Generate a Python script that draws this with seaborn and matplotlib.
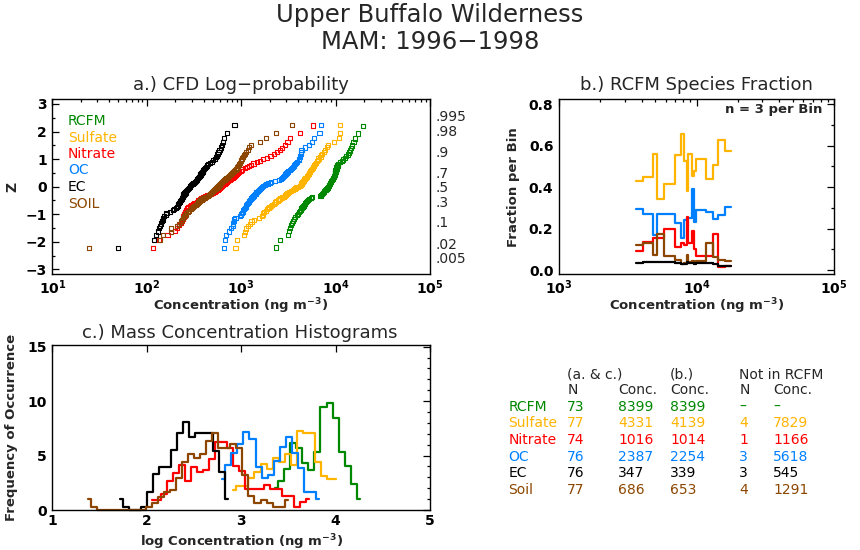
import numpy as np
import pandas as pd
import seaborn as sns
import matplotlib
matplotlib.use("Agg")
import matplotlib.pyplot as plt
from matplotlib.ticker import MultipleLocator, FixedLocator, NullFormatter, LogLocator
from statistics import NormalDist

# ---------------- data ----------------
species = ["RCFM", "Sulfate", "Nitrate", "OC", "EC", "Soil"]
legend_labels = ["RCFM", "Sulfate", "Nitrate", "OC", "EC", "SOIL"]

# a.) sorted sample concentrations, log10(ng m-3)
rcfm_log10 = [3.37, 3.41, 3.50, 3.51, 3.52, 3.53, 3.54, 3.55, 3.56, 3.57,
              3.59, 3.60, 3.61, 3.62, 3.63, 3.64, 3.65, 3.66, 3.67, 3.68,
              3.69, 3.70, 3.71, 3.72, 3.74, 3.75, 3.84, 3.85, 3.86, 3.87,
              3.88, 3.88, 3.89, 3.90, 3.91, 3.92, 3.92, 3.93, 3.93, 3.94,
              3.94, 3.95, 3.95, 3.96, 3.97, 3.97, 3.98, 3.98, 3.99, 3.99,
              3.99, 4.00, 4.00, 4.00, 4.01, 4.01, 4.02, 4.02, 4.03, 4.05,
              4.07, 4.08, 4.10, 4.11, 4.13, 4.14, 4.15, 4.16, 4.17, 4.19,
              4.21, 4.24, 4.29]
sulfate_log10 = [2.94, 2.96, 3.03, 3.04, 3.05, 3.07, 3.09, 3.11, 3.14, 3.19,
                 3.22, 3.23, 3.23, 3.24, 3.26, 3.27, 3.29, 3.30, 3.32, 3.33,
                 3.35, 3.36, 3.37, 3.39, 3.40, 3.41, 3.43, 3.45, 3.46, 3.47,
                 3.48, 3.49, 3.51, 3.53, 3.55, 3.56, 3.57, 3.58, 3.60, 3.62,
                 3.63, 3.64, 3.64, 3.65, 3.66, 3.67, 3.67, 3.68, 3.69, 3.70,
                 3.70, 3.71, 3.72, 3.72, 3.73, 3.73, 3.74, 3.75, 3.76, 3.77,
                 3.77, 3.78, 3.79, 3.80, 3.81, 3.82, 3.84, 3.85, 3.86, 3.88,
                 3.89, 3.91, 3.92, 3.98, 4.04, 4.05, 4.05]
nitrate_log10 = [2.07, 2.13, 2.22, 2.30, 2.32, 2.34, 2.36, 2.37, 2.38, 2.39,
                 2.39, 2.40, 2.41, 2.42, 2.42, 2.43, 2.44, 2.46, 2.47, 2.49,
                 2.50, 2.53, 2.54, 2.56, 2.58, 2.60, 2.62, 2.64, 2.66, 2.68,
                 2.70, 2.72, 2.73, 2.75, 2.76, 2.77, 2.79, 2.80, 2.81, 2.82,
                 2.83, 2.84, 2.85, 2.86, 2.88, 2.89, 2.91, 2.92, 2.93, 2.94,
                 2.96, 2.97, 2.98, 3.00, 3.01, 3.04, 3.06, 3.08, 3.10, 3.13,
                 3.17, 3.20, 3.23, 3.27, 3.31, 3.35, 3.38, 3.41, 3.43, 3.46,
                 3.49, 3.52, 3.62, 3.76]
oc_log10 = [2.82, 2.83, 2.84, 2.87, 2.89, 2.91, 2.91, 2.92, 2.92, 2.94,
            2.99, 3.00, 3.01, 3.02, 3.02, 3.03, 3.04, 3.05, 3.05, 3.06,
            3.07, 3.08, 3.08, 3.09, 3.10, 3.11, 3.12, 3.13, 3.14, 3.15,
            3.16, 3.16, 3.17, 3.18, 3.19, 3.20, 3.21, 3.22, 3.23, 3.25,
            3.26, 3.28, 3.30, 3.32, 3.36, 3.40, 3.42, 3.43, 3.44, 3.45,
            3.46, 3.47, 3.48, 3.49, 3.50, 3.52, 3.53, 3.54, 3.55, 3.56,
            3.57, 3.58, 3.59, 3.61, 3.61, 3.62, 3.62, 3.63, 3.63, 3.64,
            3.68, 3.72, 3.75, 3.77, 3.83, 3.85]
ec_log10 = [1.70, 2.08, 2.10, 2.12, 2.13, 2.14, 2.15, 2.16, 2.17, 2.17,
            2.18, 2.20, 2.21, 2.25, 2.28, 2.29, 2.31, 2.32, 2.33, 2.33,
            2.34, 2.35, 2.35, 2.36, 2.37, 2.37, 2.38, 2.38, 2.39, 2.39,
            2.40, 2.41, 2.41, 2.42, 2.43, 2.44, 2.45, 2.46, 2.46, 2.47,
            2.48, 2.49, 2.50, 2.51, 2.52, 2.53, 2.53, 2.54, 2.55, 2.56,
            2.57, 2.57, 2.58, 2.59, 2.60, 2.60, 2.61, 2.62, 2.63, 2.64,
            2.65, 2.67, 2.69, 2.70, 2.72, 2.73, 2.74, 2.75, 2.76, 2.77,
            2.79, 2.80, 2.81, 2.82, 2.85, 2.93]
soil_log10 = [1.39, 2.14, 2.17, 2.26, 2.26, 2.32, 2.34, 2.36, 2.37, 2.38,
              2.40, 2.41, 2.42, 2.44, 2.45, 2.47, 2.48, 2.49, 2.50, 2.52,
              2.53, 2.54, 2.55, 2.56, 2.58, 2.60, 2.62, 2.63, 2.65, 2.66,
              2.67, 2.68, 2.69, 2.70, 2.71, 2.72, 2.73, 2.74, 2.75, 2.76,
              2.77, 2.78, 2.79, 2.80, 2.81, 2.82, 2.83, 2.84, 2.85, 2.86,
              2.87, 2.88, 2.89, 2.90, 2.91, 2.92, 2.94, 2.95, 2.96, 2.97,
              2.98, 2.98, 2.99, 3.00, 3.00, 3.01, 3.02, 3.03, 3.04, 3.05,
              3.07, 3.08, 3.10, 3.20, 3.26, 3.37, 3.54]

prob_labels = [".995", ".98", ".9", ".7", ".5", ".3", ".1", ".02", ".005"]
prob_values = [0.995, 0.98, 0.9, 0.7, 0.5, 0.3, 0.1, 0.02, 0.005]

# b.) RCFM species fraction, bins of n = 3 (bin edges in log10 RCFM conc.)
b_edges_log10 = [3.56, 3.613, 3.681, 3.710, 3.764, 3.844, 3.885, 3.909, 3.929,
                 3.940, 3.965, 3.982, 3.995, 4.068, 4.12, 4.159, 4.207, 4.249]
frac_sulfate = [0.43, 0.45, 0.56, 0.345, 0.415, 0.555, 0.655, 0.525, 0.38,
                0.56, 0.455, 0.48, 0.535, 0.44, 0.505, 0.63, 0.575]
frac_oc = [0.293, 0.27, 0.17, 0.27, 0.27, 0.228, 0.155, 0.24, 0.25,
           0.25, 0.39, 0.23, 0.29, 0.28, 0.245, 0.266, 0.306]
frac_nitrate = [0.093, 0.137, 0.153, 0.153, 0.196, 0.11, 0.13, 0.12, 0.258,
                0.13, 0.19, 0.10, 0.07, 0.07, 0.175, 0.015, 0.02]
frac_soil = [0.12, 0.132, 0.075, 0.172, 0.07, 0.05, 0.03, 0.035, 0.075,
             0.04, 0.045, 0.04, 0.045, 0.13, 0.065, 0.048, 0.045]
frac_ec = [0.032, 0.04, 0.04, 0.04, 0.04, 0.035, 0.03, 0.03, 0.04,
           0.035, 0.035, 0.03, 0.035, 0.035, 0.03, 0.02, 0.02]

# c.) histograms of log concentration (first bin centre, common bin width)
hist_bin_width = 0.064
hist_first_center = [3.36, 2.917, 2.053, 2.80, 1.714, 1.381]
hist_rcfm = [2.05, 2.7, 3.74, 6.12, 5.66, 4.35, 3.67, 5.36, 9.43, 9.8, 8.42,
             5.36, 4.07, 2.39, 1.01]
hist_sulfate = [1.84, 2.23, 2.23, 2.91, 3.52, 4.2, 3.77, 4.8, 4.44, 5.11, 4.13,
                7.28, 7.04, 7.04, 4.44, 3.12, 2.85, 2.85]
hist_nitrate = [0.92, 0.92, 1.5, 2.66, 3.37, 4.13, 2.66, 3.98, 3.52, 3.67, 4.65,
                6.28, 6.28, 5.66, 4.04, 3.58, 1.93, 1.93, 1.93, 2.3, 1.93, 1.93,
                1.32, 1.32, 0.31, 0.7, 0.98]
hist_oc = [2.85, 4.13, 5.2, 6.06, 7.13, 6.52, 3.98, 2.91, 3.21, 4.53, 5.81,
           6.73, 5.2, 3.83, 1.62, 1.62, 0.98]
hist_ec = [0.98, 0.31, 0, 0, 0.31, 1.62, 3.27, 3.92, 3.92, 5.51, 7.1, 8.11,
           6.73, 7.1, 7.1, 7.1, 5.45, 3.52, 0.98]
hist_soil = [0.98, 0.31, 0, 0, 0, 0, 0, 0, 0, 0, 0.31, 0.61, 1.22, 1.62, 1.83,
             2.9, 4.44, 5.1, 4.8, 5.1, 6.36, 7.04, 5.72, 5.72, 6.03, 5.72, 3.2,
             1.29, 0.61, 0.92, 0.61, 0.31, 0.31, 0.92]

# summary table
table_n_ac = ["73", "77", "74", "76", "76", "77"]
table_conc_ac = ["8399", "4331", "1016", "2387", "347", "686"]
table_conc_b = ["8399", "4139", "1014", "2254", "339", "653"]
table_n_not = ["\u2013", "4", "1", "3", "3", "4"]
table_conc_not = ["\u2013", "7829", "1166", "5618", "545", "1291"]

# ---------------- style ----------------
sns.set_style("white")
plt.rcParams["font.family"] = ["DejaVu Sans"]
plt.rcParams["mathtext.default"] = "bf"

colors = ["#008800", "#FFB400", "#FF0000", "#0080FF", "#000000", "#8C4600"]

W, H = 860.0, 550.0


def box(l, t, r, b):
    return [l / W, 1 - b / H, (r - l) / W, (b - t) / H]


def fx(px):
    return px / W


def fy(py):
    return 1 - py / H


fig = plt.figure(figsize=(8.6, 5.5), dpi=100)
fig.patch.set_facecolor("white")
axA = fig.add_axes(box(52.3, 99.3, 430, 274))
axB = fig.add_axes(box(559, 99.3, 834, 274))
axC = fig.add_axes(box(52.3, 345, 430, 510))


def style(ax):
    for s in ax.spines.values():
        s.set_visible(True)
        s.set_linewidth(1.0)
        s.set_color("black")
    ax.tick_params(which="both", direction="in", top=True, right=True,
                   width=0.9, colors="black", labelsize=10, pad=4)
    ax.tick_params(axis="x", which="both", pad=3)
    ax.tick_params(which="major", length=5)
    ax.tick_params(which="minor", length=2.5)
    ax.set_facecolor("white")
    ax.grid(False)


# ---------------- a.) CFD log-probability ----------------
a_series = [rcfm_log10, sulfate_log10, nitrate_log10, oc_log10, ec_log10, soil_log10]
axA.set_xscale("log")
nd = NormalDist()
for vals, col in zip(a_series, colors):
    n = len(vals)
    z = [nd.inv_cdf((i + 1) / (n + 1)) for i in range(n)]
    conc = 10 ** np.array(vals)
    sns.scatterplot(x=conc, y=z, marker="s", s=9, facecolor="none",
                    edgecolor=col, linewidth=0.8, ax=axA, legend=False)
axA.set_xlim(10, 1e5)
axA.set_ylim(-3.17, 3.17)
axA.yaxis.set_major_locator(FixedLocator([-3, -2, -1, 0, 1, 2, 3]))
axA.yaxis.set_minor_locator(MultipleLocator(0.5))
axA.xaxis.set_major_locator(FixedLocator([1e1, 1e2, 1e3, 1e4, 1e5]))
axA.xaxis.set_minor_locator(LogLocator(base=10, subs=np.arange(2, 10)))
axA.xaxis.set_minor_formatter(NullFormatter())
axA.set_xticklabels([r"$10^{1}$", r"$10^{2}$", r"$10^{3}$", r"$10^{4}$", r"$10^{5}$"])
axA.set_yticklabels(["\u22123", "\u22122", "\u22121", "0", "1", "2", "3"])
style(axA)
axA.set_xlabel(r"Concentration (ng m$^{-3}$)", fontsize=9.5, fontweight="bold")
axA.set_ylabel("Z", fontsize=10, fontweight="bold")
axA.xaxis.set_label_coords(0.5, (274 - 306) / 174.7)
axA.xaxis.label.set_va("center")
axA.yaxis.set_label_coords((12 - 52.3) / 377.7, 0.5)
axA.yaxis.label.set_va("center")

twA = axA.twinx()
twA.set_ylim(axA.get_ylim())
twA.set_yticks([nd.inv_cdf(p) for p in prob_values])
twA.set_yticklabels(prob_labels)
twA.tick_params(axis="y", length=0, labelsize=10, pad=4)
for s in twA.spines.values():
    s.set_visible(False)

legend_y = [120.7, 137.7, 154.0, 170.3, 186.7, 203.5]
for lab, col, py in zip(legend_labels, colors, legend_y):
    fig.text(fx(68), fy(py), lab, color=col, fontsize=10, ha="left", va="center")

# ---------------- b.) RCFM species fraction ----------------
b_series = [frac_sulfate, frac_oc, frac_nitrate, frac_soil, frac_ec]
b_colors = [colors[1], colors[3], colors[2], colors[5], colors[4]]
axB.set_xscale("log")
edges_conc = 10 ** np.array(b_edges_log10)
for vals, col in zip(b_series, b_colors):
    yy = list(vals) + [vals[-1]]
    sns.lineplot(x=edges_conc, y=yy, drawstyle="steps-post", color=col,
                 linewidth=1.6, ax=axB, legend=False, estimator=None)
axB.set_xlim(1e3, 1e5)
axB.set_ylim(-0.019, 0.824)
axB.yaxis.set_major_locator(FixedLocator([0.0, 0.2, 0.4, 0.6, 0.8]))
axB.yaxis.set_minor_locator(MultipleLocator(0.1))
axB.xaxis.set_major_locator(FixedLocator([1e3, 1e4, 1e5]))
axB.xaxis.set_minor_locator(LogLocator(base=10, subs=np.arange(2, 10)))
axB.xaxis.set_minor_formatter(NullFormatter())
axB.set_xticklabels([r"$10^{3}$", r"$10^{4}$", r"$10^{5}$"])
axB.set_yticklabels(["0.0", "0.2", "0.4", "0.6", "0.8"])
style(axB)
axB.set_xlabel(r"Concentration (ng m$^{-3}$)", fontsize=9.5, fontweight="bold")
axB.set_ylabel("Fraction per Bin", fontsize=9.5, fontweight="bold")
axB.xaxis.set_label_coords(0.5, (274 - 306) / 174.7)
axB.xaxis.label.set_va("center")
axB.yaxis.set_label_coords((513 - 559) / 275.0, 0.5)
axB.yaxis.label.set_va("center")
axB.text(0.956, (274 - 110) / 174.7, "n = 3 per Bin", transform=axB.transAxes,
         ha="right", va="center", fontsize=9.5, fontweight="bold")

# ---------------- c.) histograms ----------------
c_series = [hist_rcfm, hist_sulfate, hist_nitrate, hist_oc, hist_ec, hist_soil]
for vals, start, col in zip(c_series, hist_first_center, colors):
    centers = start + hist_bin_width * np.arange(len(vals))
    sns.lineplot(x=centers, y=vals, drawstyle="steps-mid", color=col,
                 linewidth=1.6, ax=axC, legend=False, estimator=None,
                 clip_on=False)
axC.set_xlim(1, 5)
axC.set_ylim(0, 15.15)
axC.xaxis.set_major_locator(FixedLocator([1, 2, 3, 4, 5]))
axC.yaxis.set_major_locator(FixedLocator([0, 5, 10, 15]))
axC.yaxis.set_minor_locator(MultipleLocator(1))
axC.set_xticklabels(["1", "2", "3", "4", "5"])
axC.set_yticklabels(["0", "5", "10", "15"])
style(axC)
axC.set_xlabel(r"log Concentration (ng m$^{-3}$)", fontsize=9.5, fontweight="bold")
axC.set_ylabel("Frequency of Occurrence", fontsize=9.5, fontweight="bold")
axC.xaxis.set_label_coords(0.5, (510 - 541.7) / 165.0)
axC.xaxis.label.set_va("center")
axC.yaxis.set_label_coords((12 - 52.3) / 377.7, 0.5)
axC.yaxis.label.set_va("center")

for ax in (axA, axB, axC):
    for lab in ax.get_xticklabels() + ax.get_yticklabels():
        lab.set_fontweight("bold")

# ---------------- titles ----------------
fig.text(fx(430), fy(15), "Upper Buffalo Wilderness", fontsize=17.5, ha="center", va="center")
fig.text(fx(430), fy(42), "MAM: 1996\u22121998", fontsize=17.5, ha="center", va="center")
fig.text(fx(241), fy(85), "a.) CFD Log\u2212probability", fontsize=13, ha="center", va="center")
fig.text(fx(696), fy(85), "b.) RCFM Species Fraction", fontsize=13, ha="center", va="center")
fig.text(fx(240), fy(333), "c.) Mass Concentration Histograms", fontsize=13, ha="center", va="center")

# ---------------- table ----------------
tfs = 10
col_x = [508.3, 567.3, 618.3, 670.0, 739.3, 773.3]
fig.text(fx(567.3), fy(375), "(a. & c.)", fontsize=tfs, ha="left", va="center")
fig.text(fx(670.0), fy(375), "(b.)", fontsize=tfs, ha="left", va="center")
fig.text(fx(739.3), fy(375), "Not in RCFM", fontsize=tfs, ha="left", va="center")
for x, t in zip(col_x[1:], ["N", "Conc.", "Conc.", "N", "Conc."]):
    fig.text(fx(x), fy(390), t, fontsize=tfs, ha="left", va="center")
row_y = [406.7, 423.3, 440.0, 456.7, 473.3, 490.0]
for i, (name, col, py) in enumerate(zip(species, colors, row_y)):
    cells = [name, table_n_ac[i], table_conc_ac[i], table_conc_b[i],
             table_n_not[i], table_conc_not[i]]
    for x, t in zip(col_x, cells):
        fig.text(fx(x), fy(py), t, fontsize=tfs, color=col, ha="left", va="center")

fig.savefig("out.png", dpi=100, facecolor="white")
